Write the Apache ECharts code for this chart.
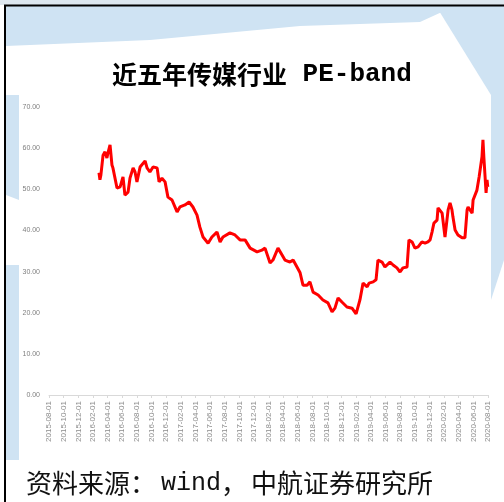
<!DOCTYPE html>
<html lang="zh-CN">
<head>
    <meta charset="UTF-8">
    <title>近五年传媒行业 PE-band</title>
    <script src="https://cdn.jsdelivr.net/npm/echarts@6/dist/echarts.min.js"></script>
    <style>
        html, body { margin: 0; padding: 0; background: #ffffff; }
        #chart { width: 504px; height: 502px; }
    </style>
</head>
<body>
    <div id="chart"></div>
    <script>
        // 日期与PE值
        const dates = [
            '2016-02-25', '2016-02-29', '2016-03-04', '2016-03-13', '2016-03-21', '2016-03-29', '2016-04-03', '2016-04-11',
            '2016-04-19', '2016-04-23', '2016-05-10', '2016-05-23', '2016-06-04', '2016-06-12', '2016-06-25', '2016-07-03',
            '2016-07-16', '2016-07-24', '2016-08-01', '2016-08-14', '2016-09-04', '2016-09-12', '2016-09-24', '2016-10-07',
            '2016-10-24', '2016-11-01', '2016-11-13', '2016-11-26', '2016-12-08', '2016-12-25', '2017-01-15', '2017-01-27',
            '2017-02-17', '2017-03-06', '2017-03-22', '2017-04-08', '2017-04-20', '2017-05-03', '2017-05-24', '2017-06-09',
            '2017-06-30', '2017-07-13', '2017-07-25', '2017-08-23', '2017-09-13', '2017-10-04', '2017-10-25', '2017-11-15',
            '2017-12-14', '2018-01-03', '2018-01-16', '2018-02-06', '2018-02-18', '2018-03-11', '2018-03-28', '2018-04-09',
            '2018-04-30', '2018-05-13', '2018-05-29', '2018-06-11', '2018-06-23', '2018-07-10', '2018-07-22', '2018-08-04',
            '2018-08-25', '2018-09-14', '2018-10-05', '2018-10-22', '2018-11-03', '2018-11-16', '2018-12-02', '2018-12-23',
            '2019-01-13', '2019-01-30', '2019-02-15', '2019-02-28', '2019-03-17', '2019-03-25', '2019-04-11', '2019-04-23',
            '2019-05-01', '2019-05-18', '2019-05-30', '2019-06-20', '2019-07-03', '2019-07-19', '2019-08-01', '2019-08-13',
            '2019-08-30', '2019-09-07', '2019-09-20', '2019-10-02', '2019-10-15', '2019-10-31', '2019-11-13', '2019-11-25',
            '2019-12-04', '2019-12-12', '2019-12-20', '2020-01-02', '2020-01-06', '2020-01-23', '2020-02-04', '2020-02-17',
            '2020-02-25', '2020-03-04', '2020-03-08', '2020-03-17', '2020-03-29', '2020-04-15', '2020-04-27', '2020-05-06',
            '2020-05-10', '2020-05-27', '2020-05-31', '2020-06-16', '2020-06-25', '2020-07-07', '2020-07-11', '2020-07-15',
            '2020-07-24', '2020-07-28', '2020-07-31'
        ];
        const peValues = [
            54.0, 52.3, 53.5, 58.3, 59.1, 57.6, 59.0, 60.8,
            55.9, 55.2, 50.3, 50.6, 53.0, 48.6, 49.3, 52.7,
            55.2, 54.2, 51.8, 55.4, 56.9, 55.2, 54.2, 55.4,
            55.2, 51.8, 52.7, 51.8, 48.1, 47.4, 44.5, 45.7,
            46.2, 46.9, 45.7, 43.7, 40.8, 38.4, 36.9, 38.4,
            39.6, 37.2, 38.4, 39.4, 38.9, 37.7, 37.7, 35.7,
            34.8, 35.2, 35.7, 32.1, 32.8, 35.7, 34.0, 32.8,
            32.3, 32.8, 31.1, 29.7, 26.7, 26.7, 27.5, 25.0,
            24.3, 23.1, 22.4, 20.2, 21.1, 23.6, 22.6, 21.4,
            21.1, 19.7, 23.1, 27.2, 26.3, 27.2, 27.5, 28.0,
            32.8, 32.3, 31.1, 32.3, 31.6, 30.9, 29.9, 30.9,
            31.1, 37.7, 37.2, 35.7, 36.0, 37.2, 36.9, 37.2,
            37.7, 39.6, 41.8, 42.5, 45.5, 44.2, 38.4, 45.0,
            46.7, 45.0, 43.3, 40.1, 38.9, 38.2, 38.2, 45.0,
            45.7, 44.2, 47.4, 49.8, 53.0, 57.9, 62.0, 57.6,
            49.1, 52.3, 50.6
        ];
        // 横轴刻度标签
        const tickDates = [
            '2015-08-01', '2015-10-01', '2015-12-01', '2016-02-01', '2016-04-01', '2016-06-01', '2016-08-01', '2016-10-01',
            '2016-12-01', '2017-02-01', '2017-04-01', '2017-06-01', '2017-08-01', '2017-10-01', '2017-12-01', '2018-02-01',
            '2018-04-01', '2018-06-01', '2018-08-01', '2018-10-01', '2018-12-01', '2019-02-01', '2019-04-01', '2019-06-01',
            '2019-08-01', '2019-10-01', '2019-12-01', '2020-02-01', '2020-04-01', '2020-06-01', '2020-08-01'
        ];

        const chart = echarts.init(document.getElementById('chart'));
        const toTime = d => +echarts.time.parse(d);
        const tickTimes = tickDates.map(toTime);
        const tickLabel = {};
        tickDates.forEach((d, i) => { tickLabel[tickTimes[i]] = d; });
        const seriesData = dates.map((d, i) => [toTime(d), peValues[i]]);
        const blue = '#cfe3f3';

        const option = {
            backgroundColor: '#ffffff',
            animation: false,
            title: [
                {
                    text: '{a|近五年传媒行业}{b| PE-band}',
                    left: 107,
                    top: 56,
                    textStyle: {
                        rich: {
                            a: { fontFamily: 'Noto Sans CJK SC', fontSize: 25, fontWeight: 'bold', color: '#000' },
                            b: { fontFamily: 'Liberation Mono', fontSize: 26, fontWeight: 'bold', color: '#000' }
                        }
                    }
                },
                {
                    text: '{a|资料来源：}{b|wind}{c|，}{a|中航证券研究所}',
                    left: 21,
                    top: 465,
                    textStyle: {
                        fontWeight: 'normal',
                        rich: {
                            a: { fontFamily: 'Noto Sans CJK SC', fontSize: 26, fontWeight: 'normal', color: '#111' },
                            b: { fontFamily: 'Liberation Mono', fontSize: 25, fontWeight: 'normal', color: '#111', padding: [0, 0, 0, 5] },
                            c: { fontFamily: 'Noto Sans CJK SC', fontSize: 26, fontWeight: 'normal', color: '#111', width: 30 }
                        }
                    }
                }
            ],
            graphic: [
                { type: 'rect', z: -10, shape: { x: 0, y: 0, width: 504, height: 5 }, style: { fill: '#dde7ef' } },
                { type: 'polygon', z: -10, shape: { points: [[6, 6], [455, 6], [420, 22], [300, 26], [150, 40], [6, 46]] }, style: { fill: blue } },
                { type: 'polygon', z: -10, shape: { points: [[436, 6], [504, 6], [504, 95], [491, 95]] }, style: { fill: blue } },
                { type: 'polygon', z: -10, shape: { points: [[6, 95], [19, 95], [19, 200], [6, 195]] }, style: { fill: blue } },
                { type: 'polygon', z: -10, shape: { points: [[6, 265], [19, 265], [19, 460], [6, 460]] }, style: { fill: blue } },
                { type: 'polygon', z: -10, shape: { points: [[491, 95], [504, 95], [504, 260], [491, 300]] }, style: { fill: blue } },
                { type: 'line', z: 10, shape: { x1: 4, y1: 5.5, x2: 504, y2: 5.5 }, style: { stroke: '#000', lineWidth: 2 } },
                { type: 'line', z: 10, shape: { x1: 5, y1: 5, x2: 5, y2: 502 }, style: { stroke: '#000', lineWidth: 2 } }
            ],
            grid: {
                left: 49,
                right: 16,
                top: 107,
                bottom: 107
            },
            xAxis: {
                type: 'value',
                min: tickTimes[0],
                max: tickTimes[tickTimes.length - 1],
                axisLine: { lineStyle: { color: '#d9d9d9' } },
                axisTick: { show: true, customValues: tickTimes, length: 3, lineStyle: { color: '#d9d9d9' } },
                splitLine: { show: false },
                axisLabel: {
                    customValues: tickTimes,
                    rotate: 90,
                    margin: 6,
                    fontSize: 8,
                    fontFamily: 'Liberation Sans',
                    color: '#8c8c8c',
                    hideOverlap: false,
                    formatter: v => tickLabel[v] || ''
                }
            },
            yAxis: {
                type: 'value',
                min: 0,
                max: 70,
                interval: 10,
                axisLine: { show: false },
                axisTick: { show: false },
                splitLine: { show: false },
                axisLabel: {
                    margin: 9,
                    fontSize: 7,
                    fontFamily: 'Liberation Sans Narrow, Liberation Sans',
                    color: '#7f7f7f',
                    formatter: v => v.toFixed(2)
                }
            },
            series: [
                {
                    name: 'PE',
                    type: 'line',
                    data: seriesData,
                    showSymbol: false,
                    lineStyle: { color: '#ff0000', width: 3 },
                    itemStyle: { color: '#ff0000' }
                }
            ]
        };

        chart.setOption(option);
    </script>
</body>
</html>
